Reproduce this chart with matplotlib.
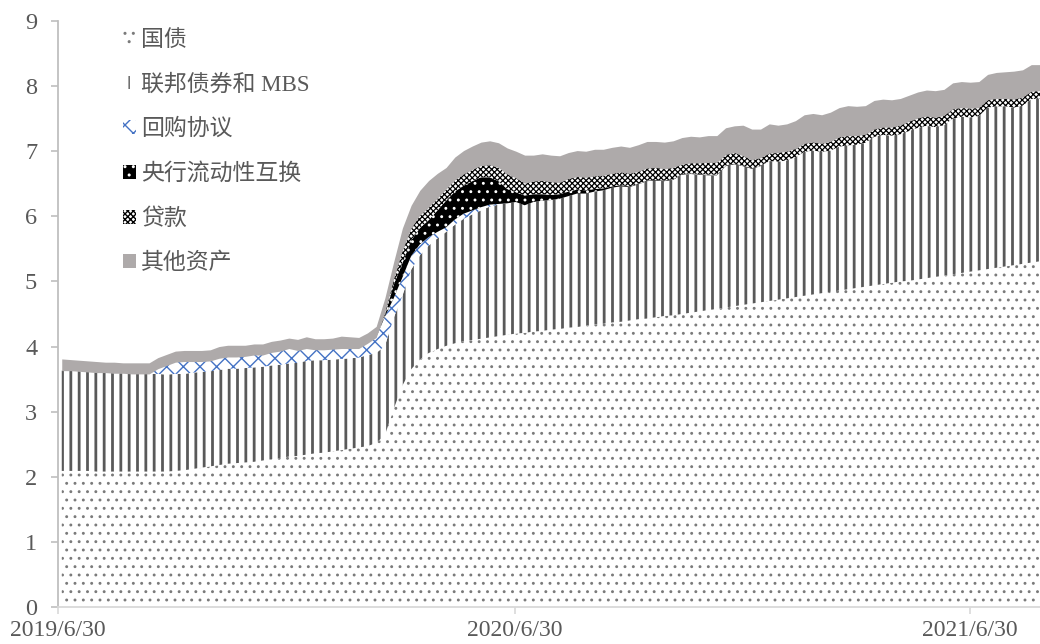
import numpy as np
import pandas as pd
import matplotlib
matplotlib.use("Agg")
import matplotlib as mpl
import matplotlib.pyplot as plt
import matplotlib.dates as mdates
from matplotlib.patches import Rectangle

# Weekly balance-sheet assets (trillion USD), Wednesdays
dates = pd.date_range("2019-07-03", periods=113, freq="7D")

treasury = [
    2.09, 2.09, 2.09, 2.09, 2.08, 2.08, 2.08, 2.08, 2.08, 2.08,
    2.08, 2.08, 2.08, 2.09, 2.10, 2.12, 2.14, 2.16, 2.18, 2.20,
    2.21, 2.22, 2.23, 2.25, 2.27, 2.29, 2.31, 2.32, 2.34, 2.36,
    2.37, 2.39, 2.41, 2.43, 2.45, 2.47, 2.52, 2.64, 3.04, 3.40,
    3.65, 3.80, 3.90, 3.96, 4.01, 4.05, 4.08, 4.10, 4.12, 4.14,
    4.16, 4.18, 4.20, 4.21, 4.23, 4.24, 4.26, 4.27, 4.29, 4.30,
    4.32, 4.34, 4.35, 4.37, 4.38, 4.40, 4.42, 4.43, 4.45, 4.47,
    4.48, 4.50, 4.52, 4.54, 4.56, 4.58, 4.60, 4.62, 4.64, 4.66,
    4.68, 4.70, 4.72, 4.74, 4.76, 4.78, 4.80, 4.82, 4.84, 4.86,
    4.88, 4.90, 4.92, 4.94, 4.96, 4.98, 5.00, 5.01, 5.03, 5.05,
    5.07, 5.09, 5.11, 5.13, 5.15, 5.17, 5.19, 5.21, 5.23, 5.25,
    5.27, 5.29, 5.31,
]
agency_mbs = [
    1.54, 1.54, 1.53, 1.52, 1.52, 1.52, 1.51, 1.51, 1.50, 1.50,
    1.50, 1.50, 1.49, 1.49, 1.48, 1.48, 1.47, 1.46, 1.46, 1.46,
    1.45, 1.45, 1.45, 1.44, 1.44, 1.43, 1.43, 1.43, 1.44, 1.43,
    1.42, 1.41, 1.40, 1.39, 1.38, 1.40, 1.38, 1.37, 1.40, 1.38,
    1.53, 1.60, 1.65, 1.70, 1.75, 1.82, 1.88, 1.93, 1.97, 2.01,
    2.02, 2.02, 2.02, 1.96, 1.99, 2.00, 1.99, 2.00, 2.02, 2.05,
    2.03, 2.04, 2.05, 2.07, 2.08, 2.05, 2.07, 2.11, 2.10, 2.07,
    2.08, 2.14, 2.13, 2.10, 2.07, 2.05, 2.17, 2.18, 2.13, 2.07,
    2.09, 2.15, 2.12, 2.12, 2.15, 2.21, 2.21, 2.17, 2.17, 2.21,
    2.21, 2.20, 2.21, 2.28, 2.29, 2.26, 2.26, 2.30, 2.33, 2.34,
    2.30, 2.31, 2.39, 2.40, 2.37, 2.37, 2.48, 2.48, 2.46, 2.42,
    2.43, 2.51, 2.50,
]
repo = [
    0.00, 0.00, 0.00, 0.00, 0.00, 0.00, 0.00, 0.00, 0.00, 0.00,
    0.00, 0.08, 0.14, 0.18, 0.19, 0.17, 0.16, 0.16, 0.18, 0.18,
    0.18, 0.18, 0.19, 0.18, 0.20, 0.21, 0.23, 0.19, 0.19, 0.16,
    0.16, 0.16, 0.16, 0.15, 0.14, 0.18, 0.24, 0.45, 0.30, 0.28,
    0.21, 0.17, 0.13, 0.10, 0.07, 0.08, 0.08, 0.06, 0.05, 0.03,
    0.01, 0.00, 0.00, 0.00, 0.00, 0.00, 0.00, 0.00, 0.00, 0.00,
    0.00, 0.00, 0.00, 0.00, 0.00, 0.00, 0.00, 0.00, 0.00, 0.00,
    0.00, 0.00, 0.00, 0.00, 0.00, 0.00, 0.00, 0.00, 0.00, 0.00,
    0.00, 0.00, 0.00, 0.00, 0.00, 0.00, 0.00, 0.00, 0.00, 0.00,
    0.00, 0.00, 0.00, 0.00, 0.00, 0.00, 0.00, 0.00, 0.00, 0.00,
    0.00, 0.00, 0.00, 0.00, 0.00, 0.00, 0.00, 0.00, 0.00, 0.00,
    0.00, 0.00, 0.00,
]
cb_swaps = [
    0.00, 0.00, 0.00, 0.00, 0.00, 0.00, 0.00, 0.00, 0.00, 0.00,
    0.00, 0.00, 0.00, 0.00, 0.00, 0.00, 0.00, 0.00, 0.00, 0.00,
    0.00, 0.00, 0.00, 0.00, 0.00, 0.00, 0.00, 0.00, 0.00, 0.00,
    0.00, 0.00, 0.00, 0.00, 0.00, 0.00, 0.00, 0.02, 0.21, 0.22,
    0.24, 0.25, 0.26, 0.33, 0.41, 0.43, 0.43, 0.45, 0.46, 0.42,
    0.35, 0.22, 0.15, 0.15, 0.12, 0.10, 0.08, 0.07, 0.07, 0.06,
    0.05, 0.04, 0.03, 0.02, 0.02, 0.01, 0.01, 0.01, 0.01, 0.01,
    0.01, 0.01, 0.01, 0.01, 0.01, 0.01, 0.01, 0.01, 0.01, 0.01,
    0.01, 0.00, 0.00, 0.00, 0.00, 0.00, 0.00, 0.00, 0.00, 0.00,
    0.00, 0.00, 0.00, 0.00, 0.00, 0.00, 0.00, 0.00, 0.00, 0.00,
    0.00, 0.00, 0.00, 0.00, 0.00, 0.00, 0.00, 0.00, 0.00, 0.00,
    0.00, 0.00, 0.00,
]
loans = [
    0.00, 0.00, 0.00, 0.00, 0.00, 0.00, 0.00, 0.00, 0.00, 0.00,
    0.00, 0.00, 0.00, 0.00, 0.00, 0.00, 0.00, 0.00, 0.00, 0.00,
    0.00, 0.00, 0.00, 0.00, 0.00, 0.00, 0.00, 0.00, 0.00, 0.00,
    0.00, 0.00, 0.00, 0.00, 0.00, 0.00, 0.00, 0.05, 0.09, 0.20,
    0.19, 0.20, 0.20, 0.19, 0.18, 0.18, 0.18, 0.18, 0.18, 0.19,
    0.21, 0.23, 0.22, 0.19, 0.20, 0.21, 0.20, 0.18, 0.20, 0.20,
    0.20, 0.20, 0.20, 0.20, 0.20, 0.20, 0.19, 0.19, 0.19, 0.18,
    0.18, 0.15, 0.16, 0.17, 0.19, 0.19, 0.17, 0.17, 0.15, 0.13,
    0.12, 0.12, 0.14, 0.14, 0.13, 0.13, 0.13, 0.13, 0.14, 0.15,
    0.15, 0.14, 0.13, 0.12, 0.12, 0.13, 0.14, 0.15, 0.15, 0.15,
    0.15, 0.15, 0.15, 0.14, 0.14, 0.13, 0.12, 0.12, 0.12, 0.13,
    0.13, 0.12, 0.12,
]
other_assets = [
    0.18, 0.17, 0.17, 0.17, 0.17, 0.16, 0.17, 0.16, 0.17, 0.17,
    0.17, 0.17, 0.17, 0.17, 0.17, 0.17, 0.17, 0.17, 0.18, 0.18,
    0.18, 0.17, 0.17, 0.17, 0.17, 0.17, 0.16, 0.17, 0.18, 0.17,
    0.17, 0.17, 0.19, 0.18, 0.17, 0.16, 0.17, 0.22, 0.26, 0.34,
    0.35, 0.38, 0.41, 0.38, 0.33, 0.35, 0.36, 0.36, 0.36, 0.37,
    0.38, 0.40, 0.41, 0.43, 0.40, 0.41, 0.41, 0.41, 0.40, 0.40,
    0.40, 0.41, 0.40, 0.40, 0.40, 0.40, 0.41, 0.41, 0.40, 0.41,
    0.41, 0.41, 0.41, 0.40, 0.41, 0.41, 0.41, 0.41, 0.47, 0.47,
    0.44, 0.45, 0.42, 0.42, 0.43, 0.44, 0.44, 0.44, 0.45, 0.45,
    0.46, 0.45, 0.44, 0.44, 0.43, 0.42, 0.41, 0.40, 0.40, 0.40,
    0.41, 0.40, 0.40, 0.40, 0.40, 0.40, 0.39, 0.40, 0.41, 0.43,
    0.42, 0.41, 0.40,
]

labels = ["国债", "联邦债券和 MBS", "回购协议", "央行流动性互换", "贷款", "其他资产"]

# face colour, hatch colour, hatch pattern, hatch line width (pt)
styles = [
    ("white", "#7a7a7a", "..", 0.9),
    ("white", "#595959", "||", 2.0),
    ("white", "#4472C4", "xx", 1.0),
    ("black", "white", "..", 0.9),
    ("white", "black", "xxxxxx", 0.9),
    ("#AEAAAA", "#AEAAAA", None, 0.5),
]

series = [treasury, agency_mbs, repo, cb_swaps, loans, other_assets]

text_gray = "#595959"
axis_gray = "#BFBFBF"

plt.rcParams["font.family"] = ["Liberation Serif", "Noto Sans CJK SC"]

fig = plt.figure(figsize=(10.4, 6.44), dpi=100)
ax = fig.add_axes([58 / 1040, 37 / 644, 982 / 1040, 586 / 644])

x = mdates.date2num(dates)
base = np.zeros(len(dates))
for vals, (fc, hc, hatch, hlw) in zip(series, styles):
    top = base + np.asarray(vals, dtype=float)
    with mpl.rc_context({"hatch.linewidth": hlw}):
        coll = ax.fill_between(x, base, top, facecolor=fc, edgecolor=hc,
                               hatch=hatch, linewidth=0)
    if hasattr(coll, "set_hatch_linewidth"):
        coll.set_hatch_linewidth(hlw)
    base = top

ax.set_xlim(mdates.date2num(pd.Timestamp("2019-06-30")),
            mdates.date2num(pd.Timestamp("2021-08-25")))
ax.set_ylim(0, 9)
ax.set_yticks(range(0, 10))

tick_dates = pd.to_datetime(["2019-06-30", "2020-06-30", "2021-06-30"])
ax.set_xticks(mdates.date2num(tick_dates))
ax.set_xticklabels([f"{d.year}/{d.month}/{d.day}" for d in tick_dates])

for side in ("top", "right"):
    ax.spines[side].set_visible(False)
ax.spines["left"].set_color(axis_gray)
ax.spines["left"].set_linewidth(1.3)
ax.spines["bottom"].set_color("#D9D9D9")
ax.spines["bottom"].set_linewidth(1.3)
ax.spines["bottom"].set_zorder(5)

ax.tick_params(axis="y", direction="out", length=5, width=1.2, color=axis_gray,
               labelsize=17.5, labelcolor=text_gray, pad=10)
ax.tick_params(axis="x", direction="out", length=5, width=1.2, color="#D9D9D9",
               labelsize=17, labelcolor=text_gray, pad=4)
ax.set_facecolor("white")

# legend with proxy patches carrying each series' fill style
handles = []
for fc, hc, hatch, hlw in styles:
    with mpl.rc_context({"hatch.linewidth": hlw}):
        p = Rectangle((0, 0), 1, 1, facecolor=fc, edgecolor=hc, hatch=hatch,
                      linewidth=0)
    if hasattr(p, "set_hatch_linewidth"):
        p.set_hatch_linewidth(hlw)
    handles.append(p)

leg = ax.legend(handles, labels, loc="upper left",
                bbox_to_anchor=(123 / 1040, 1 - 30 / 644),
                bbox_transform=fig.transFigure, frameon=False,
                fontsize=16.5, handlelength=0.55, handleheight=0.55,
                handletextpad=0.25, labelspacing=1.01, borderpad=0,
                borderaxespad=0)
for t in leg.get_texts():
    t.set_color(text_gray)

fig.savefig("out.png", dpi=100)
